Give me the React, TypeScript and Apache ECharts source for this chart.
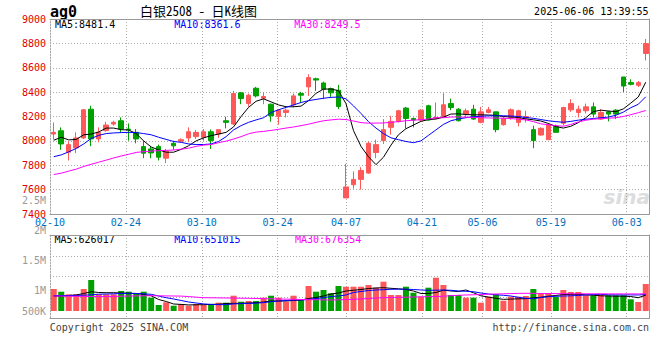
import React, { useEffect, useRef } from 'react';
import * as echarts from 'echarts';

// ---------- data ----------
const dates = [
  '02-10','02-11','02-12','02-13','02-14','02-17','02-18','02-19','02-20','02-21',
  '02-24','02-25','02-26','02-27','02-28','03-03','03-04','03-05','03-06','03-07',
  '03-10','03-11','03-12','03-13','03-14','03-17','03-18','03-19','03-20','03-21',
  '03-24','03-25','03-26','03-27','03-28','03-31','04-01','04-02','04-03','04-07',
  '04-08','04-09','04-10','04-11','04-14','04-15','04-16','04-17','04-18','04-21',
  '04-22','04-23','04-24','04-25','04-28','04-29','04-30','05-06','05-07','05-08',
  '05-09','05-12','05-13','05-14','05-15','05-16','05-19','05-20','05-21','05-22',
  '05-23','05-26','05-27','05-28','05-29','05-30','06-03','06-04','06-05','06-06',
];
const xTickLabels = ['02-10', '02-24', '03-10', '03-24', '04-07', '04-21', '05-06', '05-19', '06-03'];

const opens = [
  8056,8083,7907,7942,8024,8260,8016,8084,8138,8165,
  8097,8070,7953,7934,7953,7858,7980,7997,8024,8035,
  8029,8075,8056,8165,8138,8394,8307,8432,8350,8301,
  8201,8233,8296,8388,8443,8510,8475,8429,8415,7532,
  7640,7684,7736,7904,8002,8111,8160,8269,8184,8171,
  8288,8184,8200,8306,8260,8220,8260,8152,8233,8238,
  8133,8192,8152,8187,8092,8048,8010,8119,8144,8255,
  8233,8247,8279,8179,8238,8252,8524,8478,8456,8717,
];
const closes = [
  8070,7975,7969,8024,8255,8016,8070,8130,8152,8097,
  8092,8016,7899,7901,7866,7915,7959,8010,8075,8070,
  8075,8002,8092,8152,8388,8347,8375,8369,8364,8206,
  8252,8252,8369,8375,8519,8499,8424,8394,8282,7622,
  7684,7757,7980,7969,8092,8160,8247,8184,8171,8252,
  8171,8192,8296,8274,8165,8247,8179,8238,8255,8092,
  8184,8255,8247,8200,8002,8103,8133,8070,8274,8306,
  8260,8279,8220,8233,8220,8220,8450,8464,8478,8799,
];
const lows = [
  8010,7926,7839,7899,8016,7956,7989,8076,8125,8070,
  8002,7980,7858,7858,7839,7817,7926,7989,7989,8016,
  8002,7934,8024,8103,8130,8301,8280,8356,8301,8157,
  8133,8192,8274,8315,8369,8410,8342,8361,8260,7532,
  7608,7600,7730,7858,7975,8051,8150,8103,8111,8160,
  8165,8179,8192,8252,8160,8192,8171,8144,8225,8070,
  8125,8173,8119,8152,7940,8043,8010,8070,8125,8238,
  8192,8225,8192,8171,8160,8179,8401,8456,8442,8660,
];
const highs = [
  8151,8111,7997,8070,8260,8288,8111,8157,8165,8192,
  8143,8097,8002,7953,7969,7934,8002,8021,8111,8089,
  8097,8094,8097,8198,8410,8401,8388,8443,8396,8306,
  8260,8266,8388,8402,8546,8519,8486,8437,8459,7812,
  7749,7784,7994,8010,8179,8206,8255,8279,8192,8260,
  8296,8315,8391,8347,8269,8266,8296,8279,8279,8238,
  8198,8266,8255,8247,8125,8111,8144,8133,8279,8342,
  8288,8306,8315,8260,8247,8260,8524,8505,8491,8837,
];
const ma5 = [
  8005,8030,8008,8012,8050,8056,8073,8105,8105,8092,
  8089,8060,8000,7950,7926,7907,7907,7930,7960,8000,
  8025,8043,8056,8070,8115,8200,8275,8325,8345,8320,
  8295,8280,8280,8285,8330,8390,8425,8425,8412,8305,
  8084,7955,7870,7805,7866,7965,8050,8100,8130,8160,
  8175,8179,8195,8220,8222,8216,8214,8214,8212,8210,
  8200,8196,8192,8180,8173,8163,8143,8118,8105,8120,
  8150,8190,8240,8252,8245,8240,8262,8310,8360,8481.4,
];
const ma10 = [
  7870,7885,7910,7938,7975,8020,8045,8060,8065,8068,
  8070,8068,8060,8050,8030,8012,7995,7988,7975,7970,
  7970,7975,7995,8035,8090,8125,8152,8172,8190,8233,
  8255,8275,8295,8315,8330,8340,8350,8357,8360,8345,
  8287,8225,8158,8105,8060,8025,8010,7995,7985,8000,
  8045,8090,8135,8165,8180,8190,8198,8202,8205,8206,
  8206,8204,8200,8192,8185,8175,8165,8158,8153,8160,
  8170,8178,8183,8190,8195,8210,8236,8272,8300,8361.6,
];
const ma30 = [
  7724,7735,7752,7768,7790,7808,7825,7842,7860,7876,
  7890,7905,7912,7916,7920,7922,7925,7932,7940,7955,
  7965,7970,7985,7998,8015,8035,8058,8072,8078,8086,
  8095,8105,8114,8125,8137,8152,8165,8172,8178,8175,
  8163,8150,8145,8146,8147,8152,8158,8165,8170,8174,
  8179,8190,8190,8196,8196,8194,8192,8190,8188,8187,
  8186,8183,8178,8172,8158,8140,8132,8125,8120,8135,
  8155,8170,8178,8182,8186,8190,8200,8215,8231,8249.5,
];
const volumes = [
  869000,762000,659000,659000,869000,1224000,659000,659000,659000,790000,
  762000,699000,762000,525000,237000,343000,209000,276000,209000,276000,
  237000,265000,328000,328000,604000,367000,395000,395000,525000,604000,
  525000,367000,604000,434000,987000,762000,829000,699000,987000,959000,
  959000,959000,1026000,920000,1157000,632000,632000,959000,722000,565000,
  920000,1315000,1026000,632000,632000,525000,525000,328000,565000,659000,
  407000,565000,565000,592000,869000,711000,711000,553000,829000,750000,
  750000,620000,620000,659000,620000,620000,620000,462000,355000,1066000,
];
const volMa5 = [
  592000,592000,612000,632000,691000,760000,730000,722000,722000,711000,
  699000,691000,651000,600000,454000,375000,276000,260000,240000,245000,
  250000,260000,270000,296000,304000,304000,316000,328000,355000,395000,
  395000,395000,415000,434000,493000,533000,592000,671000,711000,790000,
  817000,849000,888000,908000,920000,896000,876000,849000,790000,691000,
  691000,730000,821000,790000,770000,830000,720000,600000,550000,500000,
  460000,470000,480000,486000,521000,541000,584000,612000,651000,659000,
  659000,640000,624000,600000,592000,584000,584000,572000,525000,626017,
];
const volMa10 = [
  604000,608000,612000,616000,624000,640000,663000,671000,679000,691000,
  699000,691000,679000,659000,592000,525000,474000,415000,355000,316000,
  280000,260000,250000,250000,280000,290000,300000,310000,330000,367000,
  395000,415000,434000,434000,454000,493000,525000,572000,592000,632000,
  730000,770000,809000,829000,841000,857000,861000,861000,849000,829000,
  817000,821000,829000,817000,790000,778000,762000,711000,671000,640000,
  620000,592000,541000,501000,482000,533000,565000,580000,592000,600000,
  612000,632000,651000,659000,640000,636000,636000,636000,632000,651015,
];
const volMa30 = [
  592000,588000,584000,580000,576000,572000,568000,572000,578000,584000,
  590000,596000,600000,604000,600000,596000,592000,588000,570000,545000,
  525000,522000,518000,514000,510000,505000,501000,495000,488000,480000,
  474000,468000,462000,455000,450000,445000,440000,434000,442000,450000,
  462000,474000,493000,513000,525000,533000,541000,545000,553000,561000,
  565000,572000,584000,604000,620000,632000,640000,651000,663000,671000,
  679000,687000,695000,699000,699000,690000,688000,686000,684000,682000,
  680000,679000,678000,677000,676000,676000,675000,675000,675000,676354,
];
const priceMin = 7400;
const priceMax = 9000;
const priceStep = 200;
const volTickValues = [500000, 1000000, 1500000, 2000000, 2500000];
const volTickLabels = ['500K', '1M', '1.5M', '2M', '2.5M'];

const symbolText = 'ag0';
const chartTitle = '白银2508 - 日K线图';
const timeStamp = '2025-06-06 13:39:55';
const copyrightText = 'Copyright 2025 SINA.COM';
const siteText = 'http://finance.sina.com.cn';

// ---------- style ----------
const RED = '#ff5858';
const GREEN = '#00a000';
const MA5C = '#000000';
const MA10C = '#0000ff';
const MA30C = '#ff00ff';
const MONO = '"DejaVu Sans Mono", monospace';
const FRAME = '#999999';
const GRIDC = '#aaaaaa';
const DOT: number[] = [1, 2];
const L = 50;
const R = 10.5;

const isTick = (_i: number, v: string) => xTickLabels.indexOf(v) >= 0;

function buildOption(): any {
  const last = dates.length - 1;
  const candleData = dates.map((_, i) => [opens[i], closes[i], lows[i], highs[i]]);
  const volData = volumes.map((v, i) => ({
    value: v,
    itemStyle: { color: closes[i] >= opens[i] ? RED : GREEN },
  }));

  const frameBottomX = (grid: number, labels: boolean) => ({
    type: 'category', gridIndex: grid, data: dates, boundaryGap: false, position: 'bottom',
    axisLine: { show: true, onZero: false, lineStyle: { color: FRAME, width: 1 } },
    axisTick: { show: false },
    axisLabel: labels
      ? { show: true, interval: isTick, color: '#0070c0', fontFamily: MONO, fontSize: 10, margin: 3 }
      : { show: false },
    splitLine: { show: true, interval: isTick, lineStyle: { color: GRIDC, type: DOT, width: 1 } },
  });
  const frameTopX = (grid: number) => ({
    type: 'category', gridIndex: grid, data: dates, position: 'top',
    axisLine: { show: true, onZero: false, lineStyle: { color: FRAME, width: 1 } },
    axisTick: { show: false }, axisLabel: { show: false }, splitLine: { show: false },
  });
  const frameRightY = (grid: number) => ({
    type: 'value', gridIndex: grid, position: 'right', min: 0, max: 1,
    axisLine: { show: true, onZero: false, lineStyle: { color: FRAME, width: 1 } },
    axisTick: { show: false }, axisLabel: { show: false }, splitLine: { show: false },
  });

  const lineSeries = (name: string, data: number[], color: string, xi: number, yi: number) => ({
    name, type: 'line', data, xAxisIndex: xi, yAxisIndex: yi,
    symbol: 'none', showSymbol: false, silent: true, z: 5,
    lineStyle: { color, width: 1 },
  });

  const txt = (text: string, x: number, y: number, color: string, font: string, align = 'left') => ({
    type: 'text', x, y, silent: true,
    style: {
      text, fill: color, font,
      align, textAlign: align, verticalAlign: 'middle', textVerticalAlign: 'middle',
    },
  });

  return {
    animation: false,
    backgroundColor: '#ffffff',
    grid: [
      { left: L, right: R, top: 19, height: 195 },
      { left: L, right: R, top: 235, height: 76 },
      { left: L, right: R, top: 235, height: 83 },
      { left: L, right: R, top: 200.3, height: 90.2 },
    ],
    xAxis: [
      { type: 'category', gridIndex: 0, data: dates, show: false, position: 'bottom' },
      frameBottomX(0, true),
      frameTopX(0),
      { type: 'category', gridIndex: 1, data: dates, show: false, position: 'bottom' },
      frameBottomX(2, false),
      frameTopX(2),
      { type: 'category', gridIndex: 3, data: dates, show: false, position: 'bottom' },
    ],
    yAxis: [
      {
        type: 'value', gridIndex: 0, position: 'left', min: priceMin, max: priceMax, interval: priceStep,
        axisLine: { show: true, onZero: false, lineStyle: { color: GRIDC, type: DOT, width: 1 } },
        axisTick: { show: false },
        axisLabel: {
          color: '#e00000', fontFamily: MONO, fontSize: 10, margin: 4, padding: [0, 0, 5, 0],
          formatter: (v: number) => String(v),
        },
        splitLine: { show: true, lineStyle: { color: GRIDC, type: DOT, width: 1 } },
      },
      frameRightY(0),
      { type: 'value', gridIndex: 1, min: 0, max: 3000000, show: false },
      {
        type: 'value', gridIndex: 2, position: 'left', min: 0, max: 4, interval: 1,
        axisLine: { show: true, onZero: false, lineStyle: { color: GRIDC, type: DOT, width: 1 } },
        axisTick: { show: false }, axisLabel: { show: false },
        splitLine: { show: true, lineStyle: { color: GRIDC, type: DOT, width: 1 } },
      },
      frameRightY(2),
      {
        type: 'value', gridIndex: 3, position: 'left',
        min: volTickValues[1], max: volTickValues[4], interval: volTickValues[1] - volTickValues[0],
        axisLine: { show: false }, axisTick: { show: false }, splitLine: { show: false },
        axisLabel: {
          color: '#999999', fontFamily: MONO, fontSize: 10, margin: 4,
          formatter: (v: number) => {
            const k = volTickValues.indexOf(v);
            return k >= 0 ? volTickLabels[k] : '';
          },
        },
        name: volTickLabels[0], nameLocation: 'start', nameGap: 20.8,
        nameTextStyle: {
          color: '#999999', fontFamily: MONO, fontSize: 10,
          align: 'right', verticalAlign: 'middle', padding: [0, 4, 0, 0],
        },
      },
    ],
    series: [
      {
        name: 'K', type: 'candlestick', data: candleData, xAxisIndex: 0, yAxisIndex: 0,
        barWidth: 5, silent: true,
        itemStyle: { color: RED, color0: GREEN, borderColor: RED, borderColor0: GREEN, borderWidth: 1 },
      },
      lineSeries('MA5', ma5, MA5C, 0, 0),
      lineSeries('MA10', ma10, MA10C, 0, 0),
      lineSeries('MA30', ma30, MA30C, 0, 0),
      {
        name: 'VOL', type: 'bar', data: volData, xAxisIndex: 3, yAxisIndex: 2,
        barWidth: 6, silent: true,
      },
      lineSeries('VMA5', volMa5, MA5C, 3, 2),
      lineSeries('VMA10', volMa10, MA10C, 3, 2),
      lineSeries('VMA30', volMa30, MA30C, 3, 2),
    ],
    graphic: [
      txt(symbolText, 50, 11.5, '#000', 'bold 15px "DejaVu Sans Mono", monospace'),
      txt(chartTitle, 140, 10, '#000', '13px "Noto Sans Mono CJK SC", "Noto Sans CJK SC", sans-serif'),
      txt(timeStamp, 648.5, 11.7, '#000', `10px ${MONO}`, 'right'),
      txt(`MA5:${ma5[last]}`, 55, 24, MA5C, `10px ${MONO}`),
      txt(`MA10:${ma10[last]}`, 174.3, 24, MA10C, `10px ${MONO}`),
      txt(`MA30:${ma30[last]}`, 294.3, 24, MA30C, `10px ${MONO}`),
      txt(`MA5:${volMa5[last]}`, 54.5, 239, MA5C, `10px ${MONO}`),
      txt(`MA10:${volMa10[last]}`, 174.3, 239, MA10C, `10px ${MONO}`),
      txt(`MA30:${volMa30[last]}`, 295, 239, MA30C, `10px ${MONO}`),
      txt(copyrightText, 49.7, 327, '#444', `10px ${MONO}`),
      txt(siteText, 649, 327, '#444', `10px ${MONO}`, 'right'),
      txt('sina', 650, 197, '#dddddd', 'italic bold 20px "DejaVu Sans", sans-serif', 'right'),
    ],
  };
}

export default function App() {
  const ref = useRef<HTMLDivElement>(null);
  useEffect(() => {
    if (!ref.current) return;
    const chart = echarts.init(ref.current, undefined, { renderer: 'svg' });
    chart.setOption(buildOption());
    return () => chart.dispose();
  }, []);
  return (
    <div
      ref={ref}
      style={{ position: 'absolute', left: 0, top: 0, width: 660, height: 360, background: '#fff' }}
    />
  );
}
